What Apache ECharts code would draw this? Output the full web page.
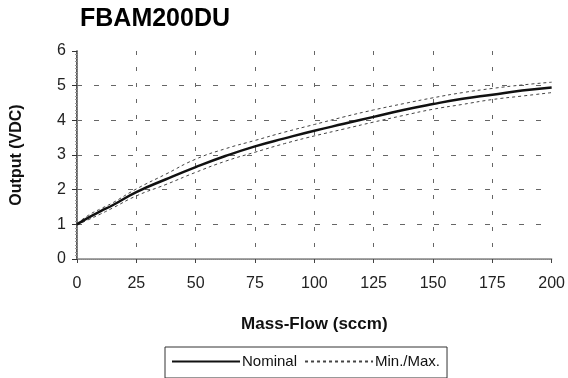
<!DOCTYPE html>
<html><head><meta charset="utf-8">
<script src="https://cdn.jsdelivr.net/npm/echarts@6/dist/echarts.min.js"></script>
<style>html,body{margin:0;padding:0;background:#fff}#c{width:568px;height:378px}</style>
</head><body><div id="c"></div>
<script>
const flow = [0, 5, 10, 15, 25, 37.5, 50, 62.5, 75, 87.5, 100, 112.5, 125, 137.5, 150, 162.5, 175, 187.5, 200];
const nominal = [1.0, 1.2, 1.38, 1.55, 1.93, 2.3, 2.65, 2.97, 3.25, 3.48, 3.7, 3.9, 4.1, 4.3, 4.47, 4.62, 4.74, 4.86, 4.95];
const maxV = [1.02, 1.27, 1.45, 1.62, 2.02, 2.45, 2.88, 3.18, 3.42, 3.66, 3.88, 4.1, 4.3, 4.48, 4.65, 4.8, 4.92, 5.02, 5.1];
const minV = [0.98, 1.14, 1.3, 1.47, 1.82, 2.15, 2.5, 2.82, 3.08, 3.33, 3.55, 3.75, 3.95, 4.14, 4.32, 4.46, 4.6, 4.7, 4.8];
const xTicks = [0, 25, 50, 75, 100, 125, 150, 175, 200];
const yTicks = [0, 1, 2, 3, 4, 5, 6];

const pair = (xs, ys) => xs.map((x, i) => [x, ys[i]]);
const F = 'Liberation Sans, Arial, sans-serif';
const chart = echarts.init(document.getElementById('c'), null, {renderer: 'canvas'});
const dashStyle = {color: '#444', width: 1, type: [3, 3]};
chart.setOption({
  animation: false,
  backgroundColor: '#fff',
  title: {text: 'FBAM200DU', left: 75, top: 2, textStyle: {fontFamily: F, fontWeight: 'bold', fontSize: 25, color: '#000'}},
  grid: {left: 77, right: 14, top: 51, bottom: 119},
  legend: {
    data: ['Nominal', 'Min./Max.'],
    left: 165, top: 347, width: 290,
    padding: [7, 7, 9, 6],
    borderColor: '#333', borderWidth: 1,
    itemWidth: 68, itemHeight: 12, itemGap: 7,
    itemStyle: {opacity: 0},
    textStyle: {fontFamily: F, fontSize: 15, color: '#111', padding: [0, 0, 0, -3]}
  },
  xAxis: [{
    type: 'value', min: xTicks[0], max: xTicks[xTicks.length - 1], interval: 25,
    name: 'Mass-Flow (sccm)', nameLocation: 'middle', nameGap: 57,
    nameTextStyle: {fontFamily: F, fontWeight: 'bold', fontSize: 17, color: '#111'},
    axisLine: {show: true, lineStyle: {color: '#888', width: 1.5}},
    axisTick: {show: true, inside: false, length: 4, lineStyle: {color: '#444'}},
    axisLabel: {fontFamily: F, fontSize: 16, color: '#222', margin: 17},
    splitLine: {show: true, showMinLine: false, showMaxLine: false, lineStyle: {color: '#666', type: [4, 12]}}
  }, {
    type: 'value', position: 'top', min: 0, max: 200,
    axisLine: {show: true, lineStyle: {color: '#888', type: [1, 1]}},
    axisTick: {show: false}, axisLabel: {show: false}, splitLine: {show: false}
  }],
  yAxis: [{
    type: 'value', min: yTicks[0], max: yTicks[yTicks.length - 1], interval: 1,
    name: 'Output (VDC)', nameLocation: 'middle', nameGap: 52,
    nameTextStyle: {fontFamily: F, fontWeight: 'bold', fontSize: 16, color: '#111'},
    axisLine: {show: true, lineStyle: {color: '#222', width: 1.5}},
    axisTick: {show: true, inside: false, length: 5, lineStyle: {color: '#333'}},
    minorTick: {show: true, splitNumber: 10, length: 2, lineStyle: {color: '#999'}},
    axisLabel: {fontFamily: F, fontSize: 16, color: '#222', margin: 11},
    splitLine: {show: true, showMinLine: false, showMaxLine: false, lineStyle: {color: '#666', type: [5, 12]}}
  }, {
    type: 'value', position: 'right', min: 0, max: 6,
    axisLine: {show: true, lineStyle: {color: '#888', type: [1, 1]}},
    axisTick: {show: false}, axisLabel: {show: false}, splitLine: {show: false}
  }],
  series: [
    {name: 'Nominal', type: 'line', data: pair(flow, nominal), smooth: true, symbol: 'none',
     lineStyle: {color: '#111', width: 2.5}, itemStyle: {color: '#111'}, z: 5},
    {name: 'Min./Max.', type: 'line', data: pair(flow, maxV), smooth: true, symbol: 'none',
     lineStyle: dashStyle, itemStyle: {color: '#444'}},
    {name: 'Min./Max.', type: 'line', data: pair(flow, minV), smooth: true, symbol: 'none',
     lineStyle: dashStyle, itemStyle: {color: '#444'}}
  ]
});
</script></body></html>
